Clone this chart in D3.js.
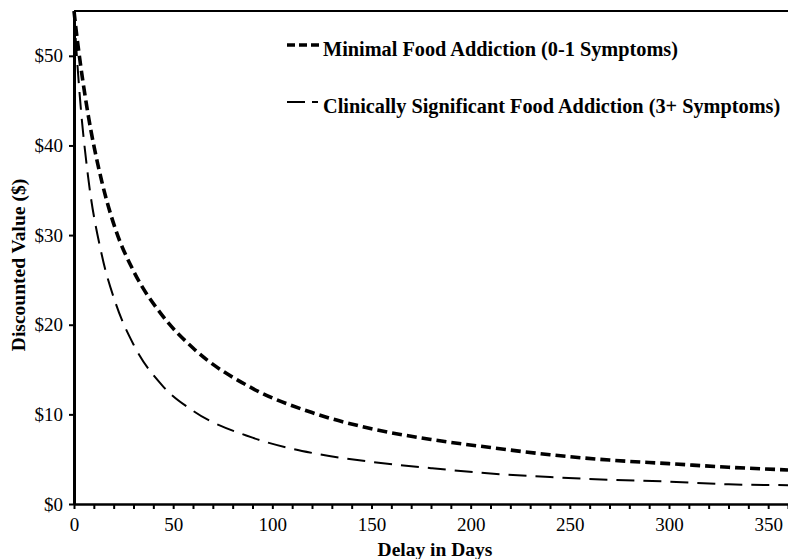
<!DOCTYPE html>
<html>
<head>
<meta charset="utf-8">
<script src="https://cdn.jsdelivr.net/npm/d3@7"></script>
<style>
  body { margin: 0; background: #fff; }
  svg text { font-family: "Liberation Serif", "Times New Roman", serif; fill: #000; }
</style>
</head>
<body>
<script>
// delays (days) and discounted values
var delays   = [0, 1, 3, 7, 14, 21, 30, 45, 60, 90, 120, 150, 180, 210, 240, 270, 300, 330, 360];
var minimal  = [55, 53.0, 49.5, 43.6, 36.0, 30.6, 26.0, 20.9, 17.4, 12.9, 10.2, 8.4, 7.2, 6.3, 5.5, 4.9, 4.5, 4.1, 3.8];
var clinical = [55, 51.4, 45.3, 36.7, 27.8, 22.4, 17.8, 13.1, 10.4, 7.4, 5.7, 4.7, 4.0, 3.4, 3.0, 2.7, 2.5, 2.2, 2.1];
var xTicks = [0, 50, 100, 150, 200, 250, 300, 350];
var yTicks = [0, 10, 20, 30, 40, 50];
var legendLabels = ["Minimal Food Addiction (0-1 Symptoms)",
                    "Clinically Significant Food Addiction (3+ Symptoms)"];

var W = 788, H = 559;
var m = {left: 74, top: 11, right: 0, bottom: 55};

var svg = d3.select("body").append("svg")
    .attr("width", W)
    .attr("height", H);

var x = d3.scaleLinear().domain([0, 360]).range([m.left, W - m.right]);
var y = d3.scaleLinear().domain([0, 55]).range([H - m.bottom, m.top]);

// top frame line
svg.append("line")
    .attr("x1", m.left).attr("x2", W)
    .attr("y1", m.top).attr("y2", m.top)
    .attr("stroke", "#000").attr("stroke-width", 2);

// x axis with minor ticks every 10 days
var xMinor = d3.range(0, 361, 10);
var gx = svg.append("g").attr("transform", "translate(0," + (H - m.bottom) + ")");
gx.call(d3.axisBottom(x).tickValues(xMinor).tickSize(5).tickFormat(function (d) {
    return xTicks.indexOf(d) >= 0 ? d : "";
  }).tickSizeOuter(0));
gx.select(".domain").attr("stroke-width", 2.6);
gx.selectAll(".tick line").attr("stroke-width", 2);
gx.selectAll(".tick text").attr("font-size", 19).attr("dy", "1em");

// y axis
var gy = svg.append("g").attr("transform", "translate(" + m.left + ",0)");
gy.call(d3.axisLeft(y).tickValues(yTicks).tickSize(5).tickSizeOuter(0)
    .tickFormat(function (d) { return "$" + d; }));
gy.select(".domain").attr("stroke-width", 3);
gy.selectAll(".tick line").attr("stroke-width", 2);
gy.selectAll(".tick text").attr("font-size", 19).attr("x", -11);

// axis titles
svg.append("text")
    .attr("x", (m.left + W) / 2 + 4).attr("y", 556)
    .attr("text-anchor", "middle")
    .attr("font-size", 19.5).attr("font-weight", "bold")
    .text("Delay in Days");

svg.append("text")
    .attr("transform", "translate(25," + 265 + ") rotate(-90)")
    .attr("text-anchor", "middle")
    .attr("font-size", 19.5).attr("font-weight", "bold")
    .text("Discounted Value ($)");

// curves
var line = d3.line()
    .x(function (d) { return x(d[0]); })
    .y(function (d) { return y(d[1]); })
    .curve(d3.curveMonotoneX);

svg.append("path")
    .datum(d3.zip(delays, clinical))
    .attr("d", line)
    .attr("fill", "none").attr("stroke", "#000")
    .attr("stroke-width", 2).attr("stroke-dasharray", "18,9");

svg.append("path")
    .datum(d3.zip(delays, minimal))
    .attr("d", line)
    .attr("fill", "none").attr("stroke", "#000")
    .attr("stroke-width", 3.6).attr("stroke-dasharray", "10,5");

// legend
var leg = svg.append("g");
leg.append("line")
    .attr("x1", 287).attr("x2", 320).attr("y1", 45).attr("y2", 45)
    .attr("stroke", "#000").attr("stroke-width", 3.6).attr("stroke-dasharray", "8,4");
leg.append("line")
    .attr("x1", 287).attr("x2", 318).attr("y1", 102).attr("y2", 102)
    .attr("stroke", "#000").attr("stroke-width", 2).attr("stroke-dasharray", "18,7");
leg.selectAll("text.leg").data(legendLabels).enter().append("text")
    .attr("class", "leg")
    .attr("x", 323)
    .attr("y", function (d, i) { return i === 0 ? 56 : 113; })
    .attr("font-size", 20.3).attr("font-weight", "bold")
    .text(function (d) { return d; });
</script>
</body>
</html>
